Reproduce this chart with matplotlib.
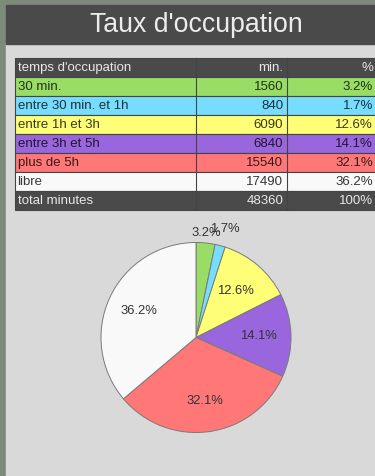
import numpy as np
import matplotlib
matplotlib.use("Agg")
import matplotlib.pyplot as plt
from matplotlib.patches import Rectangle

plt.rcParams['font.family'] = ['Liberation Sans', 'DejaVu Sans']

# --- data -------------------------------------------------------------
title = "Taux d'occupation"
header = ["temps d'occupation", "min.", "%"]
categories = ["30 min.", "entre 30 min. et 1h", "entre 1h et 3h",
              "entre 3h et 5h", "plus de 5h", "libre"]
minutes = [1560, 840, 6090, 6840, 15540, 17490]
total_label = "total minutes"
colors = ["#99dd66", "#77ddff", "#ffff77", "#9966dd", "#ff7777", "#f9f9f9"]

W, H = 375, 476
DPI = 100
fig = plt.figure(figsize=(W / DPI, H / DPI), dpi=DPI)

# full-figure canvas in pixel units (y grows downward)
bg = fig.add_axes([0, 0, 1, 1])
bg.set_xlim(0, W)
bg.set_ylim(H, 0)
bg.axis("off")

map_col = "#7f8b7a"
panel_col = "#d9d9d9"
dark_col = "#4a4a4a"

bg.add_patch(Rectangle((0, 0), W, H, color=map_col, zorder=0))
bg.add_patch(Rectangle((6, 43), W - 6, H - 43, color=panel_col, zorder=1))
bg.add_patch(Rectangle((6, 5), W - 6, 38.5, color=dark_col, zorder=1))
bg.text(196, 24.5, title, color="#ececec", fontsize=19.2,
        ha="center", va="center", zorder=2)

# --- table ------------------------------------------------------------
total = sum(minutes)
pcts = [100.0 * m / total for m in minutes]

x0, x1, x2, x3 = 15, 195.7, 286.7, W + 2
top, rh = 57.7, 19.04
fs = 9.5

rows = [(header, dark_col, "#e8e8e8", 1.0)]
for cat, m, p, c in zip(categories, minutes, pcts, colors):
    rows.append(([cat, f"{m}", f"{p:.1f}%"], c, "black", 0.78))
rows.append(([total_label, f"{total}", "100%"], dark_col, "#e8e8e8", 1.0))

for i, (cells, fc, tc, ta) in enumerate(rows):
    y = top + i * rh
    bg.add_patch(Rectangle((x0, y), x3 - x0, rh, facecolor=fc,
                           edgecolor="#444444", linewidth=0.8, zorder=3))
    yc = y + rh / 2 + 0.5
    bg.text(x0 + 2.5, yc, cells[0], fontsize=fs, color=tc, alpha=ta,
            ha="left", va="center", zorder=5)
    bg.text(x2 - 3.5, yc, cells[1], fontsize=fs, color=tc, alpha=ta,
            ha="right", va="center", zorder=5)
    bg.text(W - 2, yc, cells[2], fontsize=fs, color=tc, alpha=ta,
            ha="right", va="center", zorder=5)

for xv in (x1, x2):
    bg.plot([xv, xv], [top, top + len(rows) * rh], color="#444444",
            linewidth=0.8, zorder=4)

# --- pie --------------------------------------------------------------
cx, cy, R = 196, 337.5, 95
pie_ax = fig.add_axes([(cx - R) / W, (H - cy - R) / H, 2 * R / W, 2 * R / H])
wedges, _ = pie_ax.pie(minutes, colors=colors, startangle=90,
                       counterclock=False,
                       wedgeprops=dict(edgecolor="#7a7a7a", linewidth=0.7))
pie_ax.set_xlim(-1, 1)
pie_ax.set_ylim(-1, 1)
pie_ax.set_aspect("equal")
pie_ax.axis("off")

# label radius per slice (narrow slices are labelled outside the disc)
label_r = [1.105, 1.18, 0.64, 0.66, 0.67, 0.66]
for w, p, r in zip(wedges, pcts, label_r):
    ang = np.deg2rad((w.theta1 + w.theta2) / 2)
    pie_ax.text(r * np.cos(ang), r * np.sin(ang), f"{p:.1f}%",
                fontsize=9.4, color="#333333", ha="center", va="center",
                clip_on=False)

fig.savefig("out.png", dpi=DPI)
